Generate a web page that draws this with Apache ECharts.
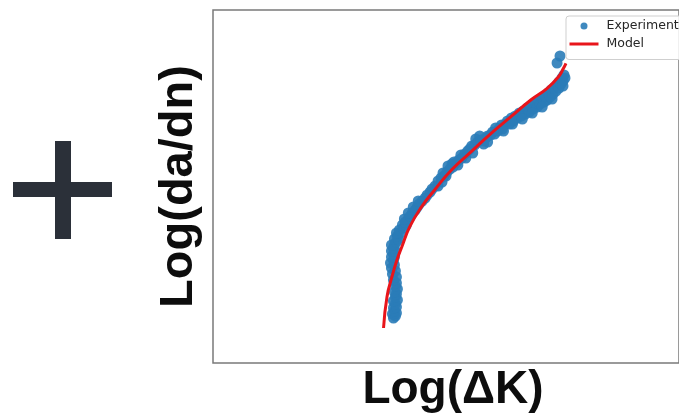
<!DOCTYPE html>
<html>
<head>
<meta charset="utf-8">
<script src="https://cdn.jsdelivr.net/npm/echarts@6/dist/echarts.min.js"></script>
<style>
html,body{margin:0;padding:0;background:#fff;}
#c{width:679px;height:419px;}
</style>
</head>
<body>
<div id="c"></div>
<script>
// Experimental points: log(ΔK), log(da/dn)
const expX = [1.164,1.168,1.162,1.170,1.166,1.164,1.170,1.168,1.164,1.172,1.168,1.170,1.166,1.172,1.168,1.170,1.164,1.170,1.162,1.168,
1.160,1.166,1.158,1.164,
1.160,1.166,1.164,1.160,1.168,1.164,1.166,1.160,1.170,1.166,1.174,1.172,1.178,1.170,1.176,1.184,1.182,1.190,1.188,1.194,
1.186,1.198,1.202,1.194,1.208,1.212,1.204,1.216,1.222,1.214,1.228,1.232,1.238,1.242,1.248,
1.254,1.260,1.266,1.264,1.272,1.278,1.284,1.282,1.290,1.296,1.302,1.300,1.308,1.314,1.318,1.322,1.328,1.334,1.330,1.340,
1.346,1.350,1.346,1.354,1.360,1.364,1.368,1.374,1.378,1.384,1.382,1.390,1.394,1.398,1.402,1.406,1.410,1.414,1.418,1.422,
1.426,1.430,1.434,1.438,1.442,1.446,1.450,1.454,1.456,1.460,1.464,1.468,1.470,1.474,1.476,1.480,1.482,1.486,1.488,1.492,
1.494,1.498,1.498,1.502,1.504,1.506,1.508,1.510,1.494,1.500,
1.254,1.270,1.294,1.310,1.324,1.338,1.354,1.370,1.386,1.404,1.424,1.444,1.464,1.484,1.506,1.274,1.262,1.286];
const expY = [-8.15,-8.13,-8.11,-8.10,-8.08,-8.05,-8.04,-8.01,-7.98,-7.97,-7.94,-7.91,-7.89,-7.86,-7.83,-7.80,-7.77,-7.74,-7.71,-7.68,
-7.65,-7.62,-7.60,-7.57,
-7.54,-7.54,-7.51,-7.48,-7.48,-7.45,-7.42,-7.42,-7.39,-7.36,-7.36,-7.33,-7.30,-7.30,-7.27,-7.25,-7.22,-7.22,-7.19,-7.16,
-7.16,-7.13,-7.10,-7.10,-7.07,-7.04,-7.04,-7.01,-6.98,-6.98,-6.95,-6.92,-6.89,-6.86,-6.83,
-6.78,-6.75,-6.73,-6.70,-6.69,-6.66,-6.64,-6.61,-6.60,-6.57,-6.55,-6.52,-6.51,-6.48,-6.46,-6.43,-6.42,-6.39,-6.36,-6.37,
-6.38,-6.35,-6.41,-6.33,-6.32,-6.29,-6.31,-6.28,-6.25,-6.26,-6.22,-6.21,-6.18,-6.21,-6.15,-6.18,-6.13,-6.15,-6.10,-6.13,
-6.08,-6.11,-6.05,-6.09,-6.03,-6.06,-6.00,-6.04,-5.98,-6.01,-5.96,-5.99,-5.93,-5.97,-5.90,-5.94,-5.87,-5.91,-5.85,-5.88,
-5.82,-5.85,-5.79,-5.81,-5.75,-5.78,-5.72,-5.75,-5.60,-5.53,
-6.83,-6.73,-6.62,-6.55,-6.50,-6.33,-6.39,-6.25,-6.28,-6.21,-6.16,-6.10,-6.04,-5.96,-5.83,-6.63,-6.79,-6.59];
// Model curve
const modelX = [1.144,1.151,1.161,1.171,1.181,1.197,1.221,1.247,1.281,1.321,1.361,1.401,1.441,1.474,1.497,1.507,1.512];
const modelY = [-8.25,-7.937,-7.737,-7.57,-7.437,-7.237,-7.037,-6.87,-6.67,-6.487,-6.303,-6.137,-5.97,-5.853,-5.737,-5.653,-5.603];
const xName = 'Log(ΔK)';
const yName = 'Log(da/dn)';
const seriesNames = ['Experiment', 'Model'];

const expData = expX.map((x, i) => [x, expY[i]]);
const modelData = modelX.map((x, i) => [x, modelY[i]]);

const chart = echarts.init(document.getElementById('c'), null, {renderer: 'canvas'});
const bigFont = {fontFamily: 'Liberation Sans', fontWeight: 'bold', color: '#0d0d0d'};
chart.setOption({
  animation: false,
  backgroundColor: '#ffffff',
  grid: {left: 213, top: 10, right: -4, bottom: 56, show: true, borderColor: '#7a7a7a', borderWidth: 1.5, backgroundColor: 'transparent'},
  xAxis: {
    type: 'value', min: 0.8, max: 1.74,
    axisLine: {show: false}, axisTick: {show: false}, axisLabel: {show: false}, splitLine: {show: false},
    name: xName, nameLocation: 'middle', nameGap: 4,
    nameTextStyle: Object.assign({fontSize: 46, verticalAlign: 'top', padding: [0, 0, 0, 14]}, bigFont)
  },
  yAxis: {
    type: 'value', min: -8.6, max: -5.07,
    axisLine: {show: false}, axisTick: {show: false}, axisLabel: {show: false}, splitLine: {show: false},
    name: yName, nameLocation: 'middle', nameGap: 10, nameRotate: 90,
    nameTextStyle: Object.assign({fontSize: 47}, bigFont)
  },
  legend: {
    orient: 'vertical', left: 566, top: 16,
    padding: [3.5, 8, 9, 2], itemGap: 5, itemWidth: 29, itemHeight: 7,
    backgroundColor: 'rgba(255,255,255,0.85)', borderColor: '#cfcfcf', borderWidth: 1, borderRadius: 3,
    lineStyle: {width: 3},
    textStyle: {fontFamily: 'DejaVu Sans', fontSize: 12.5, lineHeight: 13, color: '#262626', padding: [0, 0, 0, 3]},
    data: [
      {name: seriesNames[0], icon: 'circle'},
      {name: seriesNames[1], itemStyle: {opacity: 0}, lineStyle: {width: 3}}
    ]
  },
  series: [
    {
      name: seriesNames[0], type: 'scatter', data: expData, symbolSize: 11, symbolKeepAspect: true,
      itemStyle: {color: '#2a7cb8', opacity: 0.9}, z: 2
    },
    {
      name: seriesNames[1], type: 'line', data: modelData, smooth: true, symbol: 'none', showSymbol: false,
      lineStyle: {color: '#e8151b', width: 3}, itemStyle: {color: '#e8151b'}, z: 3
    }
  ],
  graphic: [
    {type: 'rect', shape: {x: 13, y: 182, width: 99, height: 15}, style: {fill: '#2b3039'}},
    {type: 'rect', shape: {x: 55, y: 141, width: 16, height: 98}, style: {fill: '#2b3039'}}
  ]
});
</script>
</body>
</html>
